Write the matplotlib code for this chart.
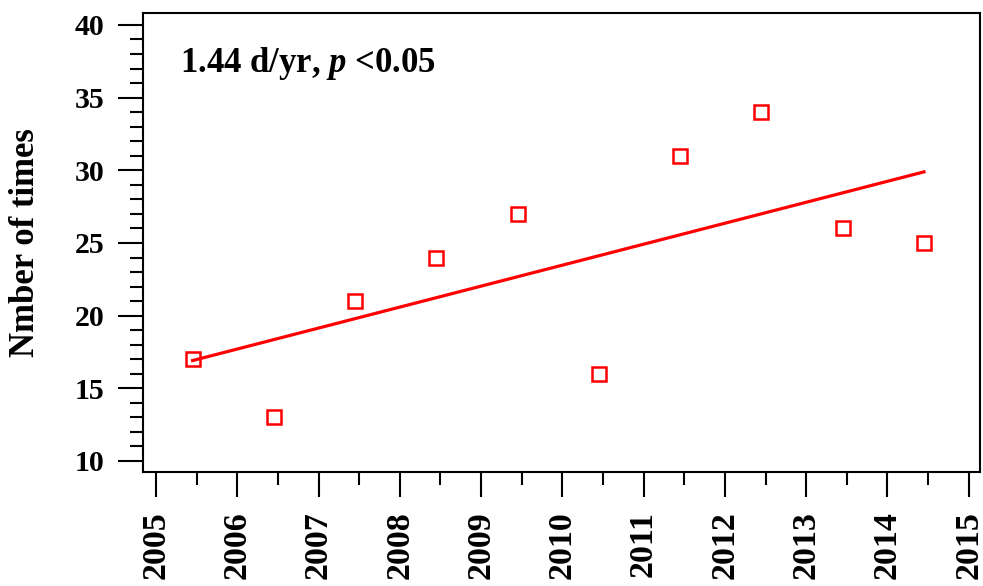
import numpy as np
import matplotlib.pyplot as plt
from matplotlib.ticker import MultipleLocator

plt.rcParams['font.family'] = ['Liberation Serif', 'DejaVu Serif']
plt.rcParams['font.weight'] = 'bold'
plt.rcParams['mathtext.fontset'] = 'custom'
plt.rcParams['mathtext.it'] = 'Liberation Serif:italic:bold'

# --- data ---
years = np.array([2005, 2006, 2007, 2008, 2009, 2010, 2011, 2012, 2013, 2014])
counts = np.array([17, 13, 21, 24, 27, 16, 31, 34, 26, 25])
x_pos = years + 0.45  # points sit mid-year

# linear trend
slope, intercept = np.polyfit(x_pos, counts, 1)

fig = plt.figure(figsize=(9.83, 5.86), dpi=100)
ax = fig.add_axes([0.1455, 0.1945, 0.8515, 0.7835])

ax.plot(x_pos, counts, 's', mfc='none', mec='red', ms=10, mew=1.8, zorder=3)
ax.plot(x_pos, slope * x_pos + intercept, color='red', lw=2.3)

ax.set_xlim(2004.84, 2015.14)
ax.set_ylim(9.24, 40.83)
ax.xaxis.set_major_locator(MultipleLocator(1))
ax.xaxis.set_minor_locator(MultipleLocator(0.5))
ax.yaxis.set_major_locator(MultipleLocator(5))
ax.yaxis.set_minor_locator(MultipleLocator(1))
ax.tick_params(which='major', direction='out', length=18, width=1.5, pad=10)
ax.tick_params(which='minor', direction='out', length=9.5, width=1.5)
ax.tick_params(axis='x', which='major', labelrotation=90, labelsize=24.5)
ax.tick_params(axis='y', which='major', labelsize=21.5)
for lab in ax.get_xticklabels() + ax.get_yticklabels():
    lab.set_fontweight('bold')
for s in ax.spines.values():
    s.set_linewidth(1.5)

ax.set_ylabel('Nmber of times', fontsize=25, fontweight='bold', va='center')
ax.yaxis.set_label_coords(-0.141, 0.5)
ax.text(0.044, 0.89, f'{slope:.2f} d/yr, $p$ <0.05', transform=ax.transAxes,
        fontsize=25, fontweight='bold', va='center', ha='left')

fig.savefig('out.png', dpi=100)
